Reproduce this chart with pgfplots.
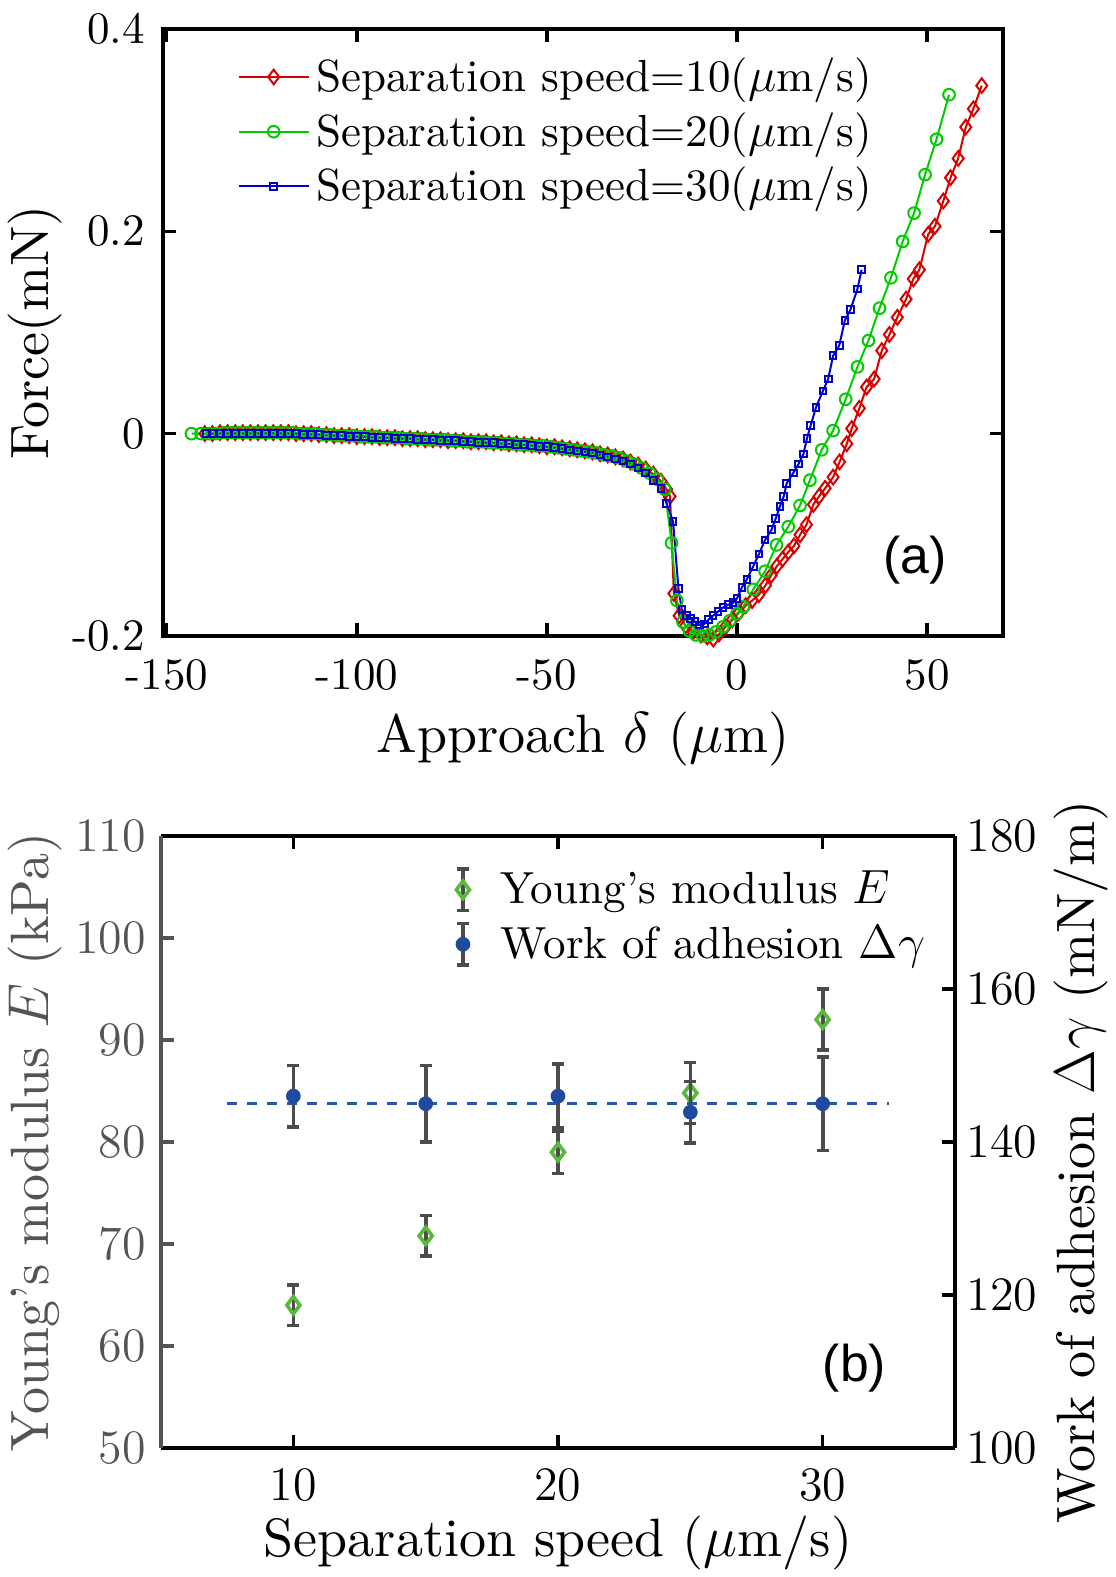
\documentclass[border=0pt]{standalone}
\usepackage{pgfplots}
\pgfplotsset{compat=1.18}
\usepackage{fontspec}
\setmainfont{lmroman10-regular}[Extension=.otf, UprightFont=*,
  ItalicFont=lmroman10-italic, BoldFont=lmroman10-bold]
\newfontfamily\panelsans{Liberation Sans}

\definecolor{cred}{rgb}{0.85,0,0}
\definecolor{cgreen}{rgb}{0,0.8,0}
\definecolor{cblue}{rgb}{0,0,0.8}
\definecolor{egreen}{rgb}{0.35,0.72,0.24}
\definecolor{eblue}{rgb}{0.12,0.29,0.62}
\definecolor{egray}{rgb}{0.3,0.3,0.3}
\definecolor{lgray}{rgb}{0.33,0.33,0.33}
\definecolor{dashblue}{rgb}{0.17,0.33,0.67}

\newcommand{\tickfont}{\fontsize{13.5}{16}\selectfont}
\newcommand{\labfont}{\fontsize{16.2}{19}\selectfont}

\begin{document}
\begin{tikzpicture}
\useasboundingbox (0,0) rectangle (334.5pt,473.1pt);

% ---------------- panel (a) ----------------
\begin{axis}[
  at={(48.9pt,282.3pt)}, anchor=south west,
  scale only axis, width=252pt, height=182.1pt,
  xmin=-151, xmax=70, ymin=-0.2, ymax=0.4,
  xtick={-150,-100,-50,0,50}, xticklabels={-150,-100,-50,0,50},
  ytick={-0.2,0,0.2,0.4}, yticklabels={-0.2,0,0.2,0.4},
  tick align=inside, major tick length=4pt,
  axis line style={line width=1pt},
  every tick/.style={black, line width=1pt},
  tick label style={font=\tickfont},
  xticklabel style={yshift=-3.6pt},
  yticklabel style={xshift=-2pt},
  label style={font=\labfont},
  xlabel={Approach $\delta$ ($\mu$m)},
  ylabel={Force(mN)},
  xlabel style={at={(axis description cs:0.5,0)}, anchor=center, yshift=-31pt},
  ylabel style={at={(axis description cs:0,0.5)}, anchor=center, yshift=38.4pt},
  legend style={at={(0.088,0.965)}, anchor=north west, draw=none, fill=none,
    font=\tickfont, inner sep=0pt, row sep=0.8pt},
  legend cell align=left,
  legend image code/.code={\draw[mark repeat=2,mark phase=2,#1]
    plot coordinates {(0cm,0cm) (0.37cm,0cm) (0.74cm,0cm)};},
  clip=false,
]
\addplot[color=cred, line width=0.6pt, mark=diamond, mark size=2.2pt] coordinates {
(-140,0.000) (-138,0.000) (-136,0.001) (-134,0.001) (-132,0.001) (-130,0.001)
(-128,0.001) (-126,0.001) (-124,0.001) (-122,0.001) (-120,0.001) (-118,0.001)
(-116,0.000) (-114,0.000) (-112,0.000) (-110,-0.001) (-108,-0.001) (-106,-0.002)
(-104,-0.002) (-102,-0.002) (-100,-0.003) (-98,-0.003) (-96,-0.003) (-94,-0.004)
(-92,-0.004) (-90,-0.004) (-88,-0.005) (-86,-0.005) (-84,-0.005) (-82,-0.006)
(-80,-0.006) (-78,-0.006) (-76,-0.007) (-74,-0.007) (-72,-0.007) (-70,-0.008)
(-68,-0.008) (-66,-0.008) (-64,-0.009) (-62,-0.009) (-60,-0.010) (-58,-0.010)
(-56,-0.011) (-54,-0.011) (-52,-0.012) (-50,-0.013) (-48,-0.013) (-46,-0.014)
(-44,-0.015) (-42,-0.016) (-40,-0.017) (-38,-0.018) (-36,-0.020) (-34,-0.021)
(-32,-0.023) (-30,-0.025) (-28,-0.028) (-26,-0.031) (-24,-0.035) (-22,-0.040)
(-20,-0.047) (-18.5,-0.055) (-17.6,-0.062) (-16.6,-0.158) (-15.2,-0.180)
(-13.5,-0.190) (-11.5,-0.196) (-9.5,-0.199) (-7.8,-0.201) (-6.2,-0.203)
(-4.7,-0.198) (-3,-0.191) (-1.2,-0.184) (0.5,-0.177) (2.3,-0.170) (4,-0.165)
(5.8,-0.159) (7.5,-0.150) (9,-0.140) (10.5,-0.131) (12,-0.124) (13.5,-0.117)
(15,-0.111) (16.6,-0.100) (18.3,-0.090) (20.1,-0.070) (21.6,-0.062) (23.2,-0.054)
(25.3,-0.043) (27,-0.028) (28.9,-0.010) (30.2,0.005) (32.2,0.025) (34.1,0.046)
(36.1,0.054) (38.1,0.082) (40.1,0.098) (42.2,0.115) (44.5,0.133) (46.4,0.153)
(48.0,0.162) (50.3,0.197) (52.1,0.205) (54.3,0.230) (56.2,0.253) (58.2,0.272)
(60.2,0.303) (62.2,0.321) (64.4,0.344)
};
\addlegendentry{Separation speed=10($\mu$m/s)}

\addplot[color=cgreen, line width=0.6pt, mark=o, mark size=1.75pt] coordinates {
(-143.5,0.000) (-141,0.000) (-139,0.000) (-137,0.000) (-135,0.001) (-133,0.001)
(-131,0.001) (-129,0.001) (-127,0.001) (-125,0.001) (-123,0.001) (-121,0.001)
(-119,0.001) (-117,0.001) (-115,0.000) (-113,0.000) (-111,0.000) (-109,-0.001)
(-107,-0.001) (-105,-0.002) (-103,-0.002) (-101,-0.002) (-99,-0.003) (-97,-0.003)
(-95,-0.003) (-93,-0.004) (-91,-0.004) (-89,-0.004) (-87,-0.005) (-85,-0.005)
(-83,-0.005) (-81,-0.006) (-79,-0.006) (-77,-0.006) (-75,-0.007) (-73,-0.007)
(-71,-0.008) (-69,-0.008) (-67,-0.008) (-65,-0.009) (-63,-0.009) (-61,-0.010)
(-59,-0.010) (-57,-0.011) (-55,-0.011) (-53,-0.012) (-51,-0.012) (-49,-0.013)
(-47,-0.014) (-45,-0.015) (-43,-0.016) (-41,-0.017) (-39,-0.018) (-37,-0.019)
(-35,-0.021) (-33,-0.022) (-31,-0.024) (-29,-0.027) (-27,-0.030) (-25,-0.034)
(-23,-0.039) (-21,-0.045) (-19,-0.055) (-17.2,-0.108) (-15.8,-0.165)
(-14.2,-0.186) (-12.5,-0.195) (-10.8,-0.199) (-9,-0.200) (-7.3,-0.199)
(-5.5,-0.196) (-3.7,-0.191) (-1.9,-0.185) (0,-0.178) (1.7,-0.171) (4.3,-0.154)
(7.4,-0.136) (10.4,-0.110) (13.5,-0.092) (16.6,-0.071) (19.2,-0.046)
(22.3,-0.016) (25.3,0.003) (28.6,0.034) (31.7,0.066) (34.6,0.092) (37.5,0.124)
(40.5,0.154) (43.6,0.190) (46.6,0.218) (49.5,0.256) (52.5,0.291) (55.8,0.335)
};
\addlegendentry{Separation speed=20($\mu$m/s)}

\addplot[color=cblue, line width=0.6pt, mark=square, mark size=1pt] coordinates {
(-139.5,0.000) (-138,0.000) (-136,0.000) (-134,0.000) (-132,0.000) (-130,0.000)
(-128,0.000) (-126,0.000) (-124,0.000) (-122,0.000) (-120,0.000) (-118,0.000)
(-116,0.000) (-114,-0.001) (-112,-0.001) (-110,-0.001) (-108,-0.002) (-106,-0.002)
(-104,-0.002) (-102,-0.003) (-100,-0.003) (-98,-0.003) (-96,-0.004) (-94,-0.004)
(-92,-0.004) (-90,-0.005) (-88,-0.005) (-86,-0.005) (-84,-0.006) (-82,-0.006)
(-80,-0.006) (-78,-0.007) (-76,-0.007) (-74,-0.007) (-72,-0.008) (-70,-0.008)
(-68,-0.009) (-66,-0.009) (-64,-0.009) (-62,-0.010) (-60,-0.010) (-58,-0.011)
(-56,-0.011) (-54,-0.012) (-52,-0.013) (-50,-0.013) (-48,-0.014) (-46,-0.015)
(-44,-0.016) (-42,-0.017) (-40,-0.018) (-38,-0.019) (-36,-0.021) (-34,-0.023)
(-32,-0.025) (-30,-0.027) (-28,-0.030) (-26,-0.034) (-24,-0.039) (-22,-0.046)
(-20,-0.054) (-18.5,-0.069) (-16.8,-0.087) (-15.4,-0.153) (-14.5,-0.174)
(-13.3,-0.180) (-12.2,-0.183) (-11,-0.186) (-9.8,-0.189) (-8.6,-0.188)
(-7.5,-0.184) (-6.3,-0.180) (-5,-0.176) (-3.7,-0.172) (-2.2,-0.169) (-1,-0.167)
(0,-0.163) (1.3,-0.152) (2.6,-0.144) (4.3,-0.131) (5.8,-0.119) (7.4,-0.105)
(9.1,-0.095) (10.2,-0.084) (11.3,-0.072) (12.3,-0.062) (13.1,-0.049)
(14.8,-0.039) (16.2,-0.030) (17.5,-0.020) (18.4,-0.005) (19.4,0.008)
(20.8,0.026) (22.6,0.042) (24.0,0.054) (25.3,0.077) (26.9,0.087) (28.4,0.112)
(29.9,0.123) (31.7,0.143) (32.8,0.162)
};
\addlegendentry{Separation speed=30($\mu$m/s)}

\node[font=\panelsans\fontsize{15.5}{18}\selectfont] at (axis cs:46.8,-0.125) {(a)};
\end{axis}

% ---------------- panel (b), left axis ----------------
\begin{axis}[
  at={(48.3pt,38.7pt)}, anchor=south west,
  scale only axis, width=238.2pt, height=183.6pt,
  xmin=5, xmax=35, ymin=50, ymax=110,
  xtick={10,20,30}, ytick={50,60,70,80,90,100,110},
  axis x line*=box, axis y line*=left,
  tick align=inside, major tick length=4pt,
  x axis line style={line width=1pt, black, -},
  y axis line style={line width=1pt, lgray, -},
  x tick style={black, line width=1pt},
  y tick style={lgray, line width=1pt},
  tick label style={font=\tickfont},
  xticklabel style={yshift=-3pt},
  yticklabel style={lgray, xshift=-1pt},
  label style={font=\labfont},
  xlabel={Separation speed ($\mu$m/s)},
  ylabel={Young's modulus $E$ (kPa)},
  xlabel style={at={(axis description cs:0.5,0)}, anchor=center, yshift=-28.5pt},
  ylabel style={lgray, at={(axis description cs:0,0.5)}, anchor=center, yshift=37.8pt},
  clip=false,
]
\addplot[only marks, mark=diamond, mark size=2.6pt,
  mark options={draw=egreen, fill=white, line width=1.1pt},
  error bars/.cd, y dir=both, y explicit,
  error bar style={egray, line width=1.1pt},
  error mark options={egray, rotate=90, mark size=1.8pt, line width=1.1pt}]
coordinates {
(10,64.0) +- (0,2.0)
(15,70.8) +- (0,2.0)
(20,79.0) +- (0,2.1)
(25,84.8) +- (0,3.0)
(30,92.0) +- (0,3.0)
};
\node[font=\panelsans\fontsize{15.5}{18}\selectfont] at (axis cs:31.2,57.8) {(b)};
\end{axis}

% ---------------- panel (b), right axis ----------------
\begin{axis}[
  at={(48.3pt,38.7pt)}, anchor=south west,
  scale only axis, width=238.2pt, height=183.6pt,
  xmin=5, xmax=35, ymin=100, ymax=180,
  ytick={100,120,140,160,180},
  axis x line=none, axis y line*=right,
  tick align=inside, major tick length=4pt,
  y axis line style={line width=1pt, black, -},
  y tick style={black, line width=1pt},
  tick label style={font=\tickfont},
  label style={font=\labfont},
  ylabel={Work of adhesion $\Delta\gamma$ (mN/m)},
  ylabel style={at={(axis description cs:1,0.5)}, anchor=center, yshift=-37.8pt, xshift=-6pt},
  legend style={at={(0.37,0.955)}, anchor=north west, draw=none, fill=none,
    font=\tickfont, inner sep=0pt, row sep=1pt},
  legend cell align=left,
  legend image code/.code={%
    \draw[egray, line width=1.1pt] (0.3cm,-0.22cm) -- (0.3cm,0.22cm);
    \draw[egray, line width=1.1pt] (0.24cm,-0.22cm) -- (0.36cm,-0.22cm);
    \draw[egray, line width=1.1pt] (0.24cm,0.22cm) -- (0.36cm,0.22cm);
    \draw[#1] plot coordinates {(0.3cm,0cm)};
    \path (0.63cm,0cm);},
]
\addplot[dashblue, dashed, line width=1pt, forget plot] coordinates {(7.5,145) (32.5,145)};
\addplot[only marks, mark=*, mark size=2pt,
  mark options={draw=eblue, fill=eblue}, forget plot,
  error bars/.cd, y dir=both, y explicit,
  error bar style={egray, line width=1.1pt},
  error mark options={egray, rotate=90, mark size=1.8pt, line width=1.1pt}]
coordinates {
(10,146.0) +- (0,4.0)
(15,145.0) +- (0,5.0)
(20,146.0) +- (0,4.2)
(25,143.9) +- (0,4.0)
(30,145.0) +- (0,6.1)
};
\addlegendimage{draw=none, mark=diamond, mark size=2.6pt,
  mark options={draw=egreen, fill=white, line width=1.1pt}}
\addlegendentry{Young's modulus $E$}
\addlegendimage{draw=none, mark=*, mark size=2pt,
  mark options={draw=eblue, fill=eblue}}
\addlegendentry{Work of adhesion $\Delta\gamma$}
\end{axis}
\end{tikzpicture}
\end{document}
